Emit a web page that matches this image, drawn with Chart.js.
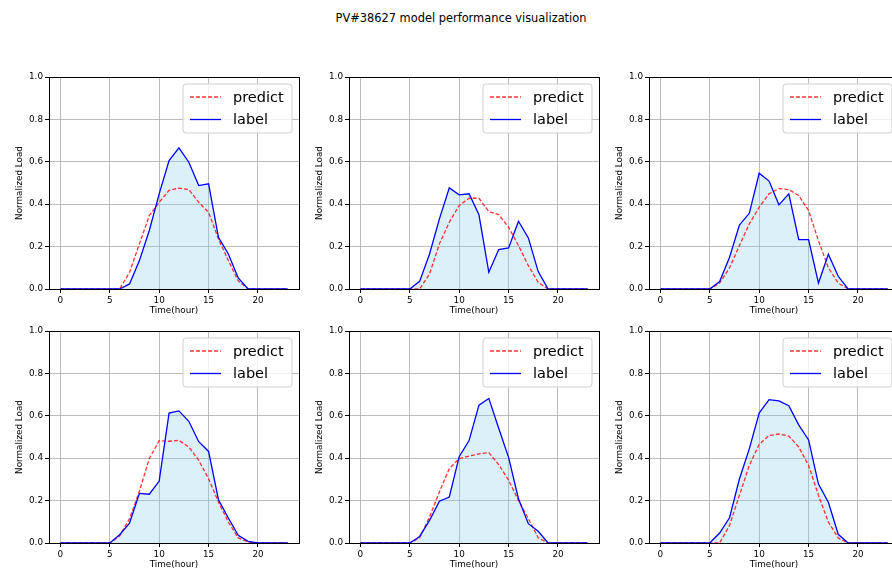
<!DOCTYPE html>
<html>
<head>
<meta charset="utf-8">
<script src="https://cdn.jsdelivr.net/npm/chart.js@4/dist/chart.umd.min.js"></script>
<style>
  html, body { margin: 0; padding: 0; background: #fff; }
  body { width: 892px; height: 571px; position: relative; overflow: hidden; font-family: "DejaVu Sans", sans-serif; }
  #titulo { position: absolute; top: 11px; left: 0; width: 922px; text-align: center; font-size: 11.4px; color: #000; }
  .panel { position: absolute; width: 307px; height: 248px; }
</style>
</head>
<body>
<div id="titulo">PV#38627 model performance visualization</div>

<script>
const horas = [0, 1, 2, 3, 4, 5, 6, 7, 8, 9, 10, 11, 12, 13, 14, 15, 16, 17, 18, 19, 20, 21, 22, 23];
const ticksX = [0, 5, 10, 15, 20];
const ticksY = [0, 0.2, 0.4, 0.6, 0.8, 1.0];
const nombres = ["predict", "label"];

const label1 = [0, 0, 0, 0, 0, 0, 0, 0.024, 0.134, 0.276, 0.449, 0.606, 0.666, 0.598, 0.488, 0.496, 0.244, 0.165, 0.052, 0, 0, 0, 0, 0];
const predict1 = [0, 0, 0, 0, 0, 0, 0, 0.079, 0.213, 0.346, 0.409, 0.465, 0.476, 0.469, 0.409, 0.362, 0.236, 0.134, 0.039, 0, 0, 0, 0, 0];

const label2 = [0, 0, 0, 0, 0, 0, 0.036, 0.165, 0.331, 0.477, 0.444, 0.449, 0.35, 0.079, 0.186, 0.194, 0.32, 0.241, 0.082, 0, 0, 0, 0, 0];
const predict2 = [0, 0, 0, 0, 0, 0, 0, 0.071, 0.213, 0.315, 0.394, 0.428, 0.428, 0.365, 0.351, 0.291, 0.205, 0.11, 0.031, 0, 0, 0, 0, 0];

const label3 = [0, 0, 0, 0, 0, 0, 0.035, 0.15, 0.302, 0.357, 0.546, 0.509, 0.397, 0.449, 0.233, 0.233, 0.028, 0.164, 0.06, 0, 0, 0, 0, 0];
const predict3 = [0, 0, 0, 0, 0, 0, 0.028, 0.1, 0.205, 0.307, 0.386, 0.449, 0.474, 0.469, 0.441, 0.37, 0.228, 0.1, 0.028, 0, 0, 0, 0, 0];

const label4 = [0, 0, 0, 0, 0, 0, 0.039, 0.094, 0.234, 0.23, 0.292, 0.613, 0.623, 0.574, 0.478, 0.432, 0.204, 0.118, 0.036, 0.008, 0, 0, 0, 0];
const predict4 = [0, 0, 0, 0, 0, 0, 0.033, 0.115, 0.245, 0.398, 0.483, 0.48, 0.484, 0.453, 0.39, 0.303, 0.193, 0.099, 0.024, 0.005, 0, 0, 0, 0];

const label5 = [0, 0, 0, 0, 0, 0, 0.031, 0.107, 0.197, 0.217, 0.407, 0.483, 0.65, 0.682, 0.541, 0.404, 0.209, 0.091, 0.055, 0, 0, 0, 0, 0];
const predict5 = [0, 0, 0, 0, 0, 0, 0.025, 0.123, 0.241, 0.351, 0.398, 0.41, 0.42, 0.426, 0.37, 0.296, 0.201, 0.115, 0.025, 0, 0, 0, 0, 0];

const label6 = [0, 0, 0, 0, 0, 0, 0.047, 0.119, 0.302, 0.444, 0.613, 0.676, 0.67, 0.648, 0.557, 0.486, 0.278, 0.192, 0.041, 0, 0, 0, 0, 0];
const predict6 = [0, 0, 0, 0, 0, 0, 0, 0.083, 0.225, 0.366, 0.465, 0.507, 0.514, 0.504, 0.453, 0.366, 0.225, 0.099, 0.024, 0, 0, 0, 0, 0];

const paneles = [
  { label: label1, predict: predict1 },
  { label: label2, predict: predict2 },
  { label: label3, predict: predict3 },
  { label: label4, predict: predict4 },
  { label: label5, predict: predict5 },
  { label: label6, predict: predict6 }
];

// left/top of each axes box in the page
const colIzq = [49, 349, 649];
const filaSup = [77, 331];

const ROJO = "rgba(255, 0, 0, 0.8)";
const AZUL = "#0000ff";
const fuente = "DejaVu Sans";

// spines on all four sides + legend inside top right
const marcoLeyenda = {
  id: "marcoLeyenda",
  afterDraw(chart) {
    const { ctx, chartArea: a } = chart;
    ctx.save();
    ctx.strokeStyle = "#000";
    ctx.lineWidth = 1;
    ctx.strokeRect(Math.round(a.left) + 0.5, Math.round(a.top) + 0.5, Math.round(a.right - a.left), Math.round(a.bottom - a.top));

    const x0 = a.right - 116, y0 = a.top + 7, w = 109, h = 49, r = 3;
    ctx.beginPath();
    ctx.moveTo(x0 + r, y0);
    ctx.arcTo(x0 + w, y0, x0 + w, y0 + h, r);
    ctx.arcTo(x0 + w, y0 + h, x0, y0 + h, r);
    ctx.arcTo(x0, y0 + h, x0, y0, r);
    ctx.arcTo(x0, y0, x0 + w, y0, r);
    ctx.closePath();
    ctx.fillStyle = "rgba(255,255,255,0.8)";
    ctx.fill();
    ctx.strokeStyle = "#d0d0d0";
    ctx.stroke();

    const filas = chart.data.datasets.filter(d => d.enLeyenda);
    filas.forEach((d, i) => {
      const y = a.top + 20 + i * 22.5;
      ctx.beginPath();
      ctx.setLineDash(d.borderDash || []);
      ctx.strokeStyle = d.borderColor;
      ctx.lineWidth = d.borderWidth;
      ctx.moveTo(a.right - 109, y);
      ctx.lineTo(a.right - 78, y);
      ctx.stroke();
      ctx.setLineDash([]);
      ctx.fillStyle = "#000";
      ctx.font = "14.5px '" + fuente + "'";
      ctx.textBaseline = "middle";
      ctx.fillText(d.label, a.right - 66, y + 1);
    });
    ctx.restore();
  }
};

paneles.forEach((p, i) => {
  const div = document.createElement("div");
  div.className = "panel";
  div.style.left = (colIzq[i % 3] - 49) + "px";
  div.style.top = (filaSup[Math.floor(i / 3)] - 8) + "px";
  const canvas = document.createElement("canvas");
  canvas.width = 307;
  canvas.height = 248;
  div.appendChild(canvas);
  document.body.appendChild(div);

  const puntos = vals => horas.map((h, k) => ({ x: h, y: vals[k] }));

  new Chart(canvas, {
    type: "line",
    data: {
      datasets: [
        {
          label: "fill",
          data: puntos(p.label),
          borderWidth: 0,
          pointRadius: 0,
          fill: "origin",
          backgroundColor: "rgba(135, 206, 235, 0.3)",
          order: 3
        },
        {
          label: nombres[0],
          enLeyenda: true,
          data: puntos(p.predict),
          borderColor: ROJO,
          borderWidth: 1.3,
          borderDash: [4, 2],
          pointRadius: 0,
          fill: false,
          tension: 0,
          order: 2
        },
        {
          label: nombres[1],
          enLeyenda: true,
          data: puntos(p.label),
          borderColor: AZUL,
          borderWidth: 1.3,
          pointRadius: 0,
          fill: false,
          tension: 0,
          order: 1
        }
      ]
    },
    options: {
      responsive: false,
      animation: false,
      devicePixelRatio: 1,
      layout: { padding: { top: 8, right: 8, left: 0, bottom: 0 } },
      plugins: {
        legend: { display: false },
        tooltip: { enabled: false },
        filler: { drawTime: "beforeDatasetsDraw" }
      },
      scales: {
        x: {
          type: "linear",
          min: -1.15,
          max: 24.15,
          afterBuildTicks: s => { s.ticks = ticksX.map(v => ({ value: v })); },
          afterFit: s => { s.height = 28; },
          ticks: { color: "#000", font: { family: fuente, size: 8.8 }, padding: 2, maxRotation: 0 },
          grid: { color: "rgba(176,176,176,0.85)", lineWidth: 1, tickLength: 4, tickColor: "#000" },
          border: { display: true, color: "#000", width: 1 },
          title: { display: true, text: "Time(hour)", color: "#000", font: { family: fuente, size: 8.8 }, padding: { top: 0, bottom: 1 } }
        },
        y: {
          min: 0,
          max: 1,
          afterBuildTicks: s => { s.ticks = ticksY.map(v => ({ value: v })); },
          afterFit: s => { s.width = 49; },
          ticks: { color: "#000", font: { family: fuente, size: 8.8 }, padding: 2, callback: v => v.toFixed(1) },
          grid: { color: "rgba(176,176,176,0.85)", lineWidth: 1, tickLength: 4, tickColor: "#000" },
          border: { display: true, color: "#000", width: 1 },
          title: { display: true, text: "Normalized Load", color: "#000", font: { family: fuente, size: 8.8 }, padding: { top: 14, bottom: 0 } }
        }
      }
    },
    plugins: [marcoLeyenda]
  });
});
</script>
</body>
</html>
